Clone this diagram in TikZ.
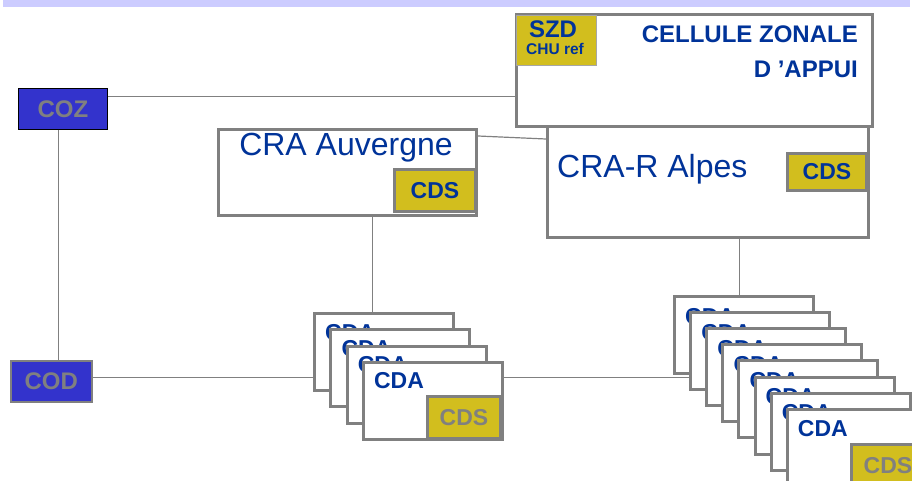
\documentclass[tikz,border=0pt]{standalone}
\usepackage{fontspec}
\setmainfont{Liberation Sans}
\usetikzlibrary{positioning}
\definecolor{bleu}{RGB}{0,51,153}
\definecolor{gris}{RGB}{128,128,128}
\definecolor{jaune}{RGB}{210,190,30}
\definecolor{roi}{RGB}{51,51,204}
\definecolor{lavande}{RGB}{204,204,255}

\begin{document}
\begin{tikzpicture}[x=1pt,y=-1pt,
  cadre/.style={draw=gris,fill=white,line width=3pt,inner sep=0pt,anchor=north west},
  cds/.style={cadre,fill=jaune,text=bleu,font=\fontsize{23}{25}\selectfont\bfseries},
  poste/.style={fill=roi,inner sep=0pt,anchor=north west,minimum width=89pt,minimum height=41pt,text=gris,font=\fontsize{24}{26}\selectfont\bfseries},
  titre/.style={text=bleu,inner sep=0pt,font=\fontsize{24}{26}\selectfont\bfseries},
  nom/.style={text=bleu,inner sep=0pt,font=\fontsize{32}{36}\selectfont},
  lien/.style={draw=gris,line width=1.2pt}]
  \useasboundingbox (0,0) rectangle (912,481);
  \clip (0,0) rectangle (912,481);
  \fill[lavande] (3,0) rectangle (910,7);

  \node[cadre,minimum width=321pt,minimum height=112pt] (alp) at (546,124) {};
  \node[nom,anchor=base west] (alpt) at (557,178) {CRA-R Alpes};
  \node[cds,minimum width=79pt,minimum height=37pt] (alpcds) at (786,152) {CDS};
  \node[cadre,minimum width=356pt,minimum height=112pt] (cza) at (515,13) {};
  \node[cadre,fill=jaune,draw=gris!70,line width=1pt,minimum width=80pt,minimum height=50pt] (szd) at (516,15) {};
  \node[titre,anchor=base] (szdt) at (553,38) {SZD};
  \node[titre,anchor=base,font=\fontsize{15.5}{17}\selectfont\bfseries] (chut) at (555,55) {CHU ref};
  \node[titre,anchor=base east] (czat) at (858,43) {CELLULE ZONALE};
  \node[titre,anchor=base east] (czat2) at (858,78) {D ’APPUI};

  \node[cadre,minimum width=258pt,minimum height=86pt] (auv) at (217,128) {};
  \node[nom,anchor=base] (auvt) at (346,156) {CRA Auvergne};
  \node[cds,minimum width=81pt,minimum height=42pt] (auvcds) at (393,168) {CDS};

  \node[poste,draw=black,line width=1pt] (coz) at (18,88) {COZ};
  \node[poste,draw=gris,line width=1.5pt,minimum width=81pt] (cod) at (10,360) {COD};

  \foreach \i in {1,...,4}{
    \node[cadre,minimum width=139pt,minimum height=77pt] (l\i) at ({313+16.3*(\i-1)},{312+16.3*(\i-1)}) {};
    \node[titre,anchor=base west,font=\fontsize{23}{25}\selectfont\bfseries] (l\i t) at ([shift={(12,28)}]l\i.north west) {CDA};
  }
  \node[cds,text=gris,minimum width=73pt,minimum height=42pt] (lcds) at (426,395) {CDS};

  \foreach \i in {1,...,8}{
    \node[cadre,minimum width=139pt,minimum height=77pt] (r\i) at ({673+16.1*(\i-1)},{295+16.1*(\i-1)}) {};
    \node[titre,anchor=base west,font=\fontsize{23}{25}\selectfont\bfseries] (r\i t) at ([shift={(12,29)}]r\i.north west) {CDA};
  }
  \node[cds,text=gris,minimum width=73pt,minimum height=42pt] (rcds) at (850,443) {CDS};

  \coordinate (cozout) at ([yshift=12.5pt]coz.east);
  \draw[lien] (cozout) -- (cozout -| cza.west);
  \coordinate (cozdown) at ([xshift=-4.5pt]coz.south);
  \draw[lien] (cozdown) -- (cozdown |- cod.north);
  \coordinate (codout) at ([yshift=4pt]cod.east);
  \draw[lien] (codout) -- (codout -| l1.west);
  \draw[lien] (l4.east |- codout) -- (codout -| r2.west);
  \draw[lien] ([yshift=-8pt]auv.north east) -- ([yshift=-15pt]alp.north west);
  \coordinate (auvdown) at ([xshift=25pt]auv.south);
  \draw[lien] (auvdown) -- (auvdown |- l1.north);
  \coordinate (alpdown) at ([xshift=31.5pt]alp.south);
  \draw[lien] (alpdown) -- (alpdown |- r1.north);
\end{tikzpicture}
\end{document}
